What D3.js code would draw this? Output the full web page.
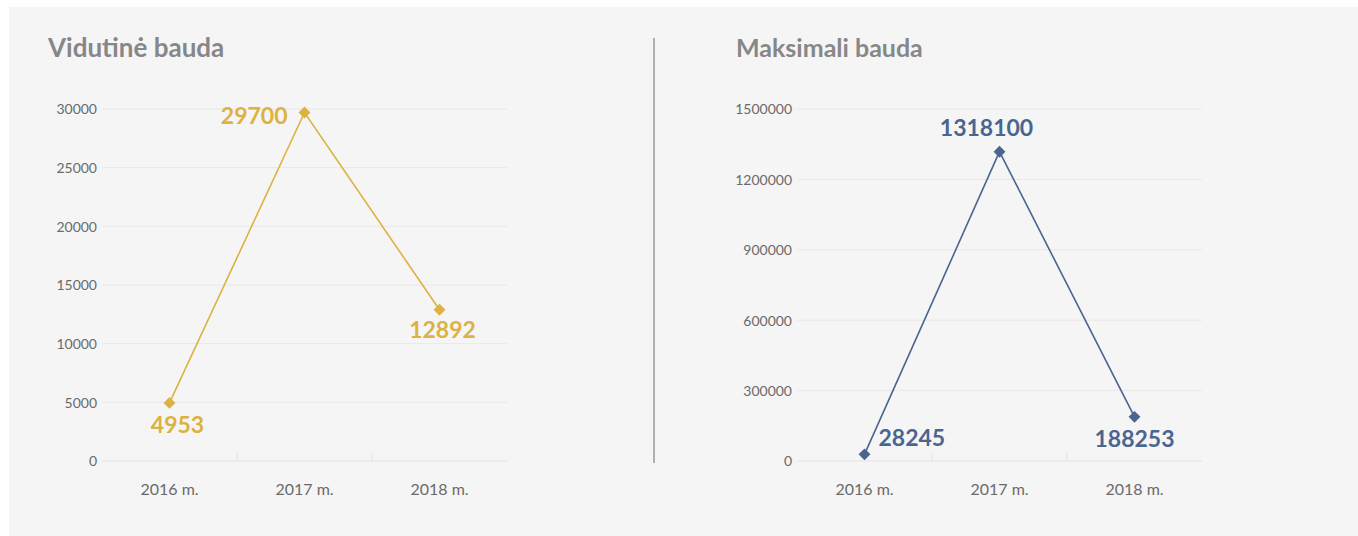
<!DOCTYPE html>
<html>
<head>
<meta charset="utf-8">
<script src="https://cdn.jsdelivr.net/npm/d3@7"></script>
<style>
  body { margin: 0; background: #fff; }
  svg { display: block; }
  .tick text { font-family: "Lato", "Open Sans", sans-serif; fill: #6a6a6a; }
</style>
</head>
<body>
<script>
// data
var years = ["2016 m.", "2017 m.", "2018 m."]
var avgFine = [4953, 29700, 12892]
var maxFine = [28245, 1318100, 188253]
var avgTicks = [0, 5000, 10000, 15000, 20000, 25000, 30000]
var maxTicks = [0, 300000, 600000, 900000, 1200000, 1500000]

var W = 1358, H = 536
var svg = d3.select("body").append("svg").attr("width", W).attr("height", H)

svg.append("rect").attr("x", 9).attr("y", 7).attr("width", W - 9).attr("height", H - 7).attr("fill", "#f5f5f5")

// divider
svg.append("line").attr("x1", 654).attr("x2", 654).attr("y1", 38).attr("y2", 463)
  .attr("stroke", "#999").attr("stroke-width", 1.5)

function drawChart(opt) {
  var g = svg.append("g")
  var x = d3.scaleBand().domain(years).range([opt.x0, opt.x0 + 405])
  var y = d3.scaleLinear().domain([0, opt.max]).range([461, 109])

  g.append("text").attr("x", opt.titleX).attr("y", 57).text(opt.title)
    .attr("font-family", "Lato, sans-serif").attr("font-weight", 700)
    .attr("font-size", opt.titleSize).attr("fill", "#878787")

  // grid
  g.selectAll(".grid").data(opt.ticks).enter().append("line")
    .attr("x1", x.range()[0]).attr("x2", x.range()[1])
    .attr("y1", d => y(d)).attr("y2", d => y(d))
    .attr("stroke", d => d == 0 ? "#e3e3e3" : "#e8e8e8").attr("stroke-width", 1)

  // band separators
  g.selectAll(".sep").data(years.slice(1)).enter().append("line")
    .attr("x1", d => x(d)).attr("x2", d => x(d))
    .attr("y1", 453).attr("y2", 461).attr("stroke", "#e3e3e3")

  var ya = g.append("g").attr("transform", "translate(" + (opt.x0 - 5) + ",0)")
    .call(d3.axisLeft(y).tickValues(opt.ticks).tickSize(0).tickPadding(0).tickFormat(d => d))
  ya.select(".domain").remove()
  ya.selectAll("text").attr("font-size", 14).attr("dy", "0.35em")

  var xa = g.append("g").attr("transform", "translate(0,461)")
    .call(d3.axisBottom(x).tickSize(0).tickPadding(0))
  xa.select(".domain").remove()
  xa.selectAll("text").attr("font-size", 16).attr("y", 34).attr("dy", 0)

  var line = d3.line().x((d, i) => x(years[i]) + x.bandwidth() / 2).y(d => y(d))
  g.append("path").datum(opt.values).attr("d", line)
    .attr("fill", "none").attr("stroke", opt.color).attr("stroke-width", 1.6)

  g.selectAll(".pt").data(opt.values).enter().append("path")
    .attr("d", d3.symbol(d3.symbolDiamond2, 90))
    .attr("transform", (d, i) => "translate(" + (x(years[i]) + x.bandwidth() / 2) + "," + y(d) + ")")
    .attr("fill", opt.color)

  g.selectAll(".lbl").data(opt.values).enter().append("text")
    .attr("x", (d, i) => x(years[i]) + x.bandwidth() / 2 + opt.lbl[i][0])
    .attr("y", (d, i) => y(d) + opt.lbl[i][1])
    .attr("text-anchor", (d, i) => opt.lbl[i][2])
    .attr("font-family", "Lato, sans-serif").attr("font-weight", 700)
    .attr("font-size", 23).attr("fill", opt.color)
    .text(d => d)
}

drawChart({
  x0: 102, max: 30000, ticks: avgTicks, values: avgFine, color: "#dcb240",
  title: "Vidutinė bauda", titleX: 48, titleSize: 26,
  lbl: [[8, 30, "middle"], [-17, 11, "end"], [3, 28, "middle"]]
})

drawChart({
  x0: 797, max: 1500000, ticks: maxTicks, values: maxFine, color: "#4a6590",
  title: "Maksimali bauda", titleX: 736, titleSize: 25,
  lbl: [[14, -8, "start"], [-13, -16, "middle"], [0, 30, "middle"]]
})
</script>
</body>
</html>
